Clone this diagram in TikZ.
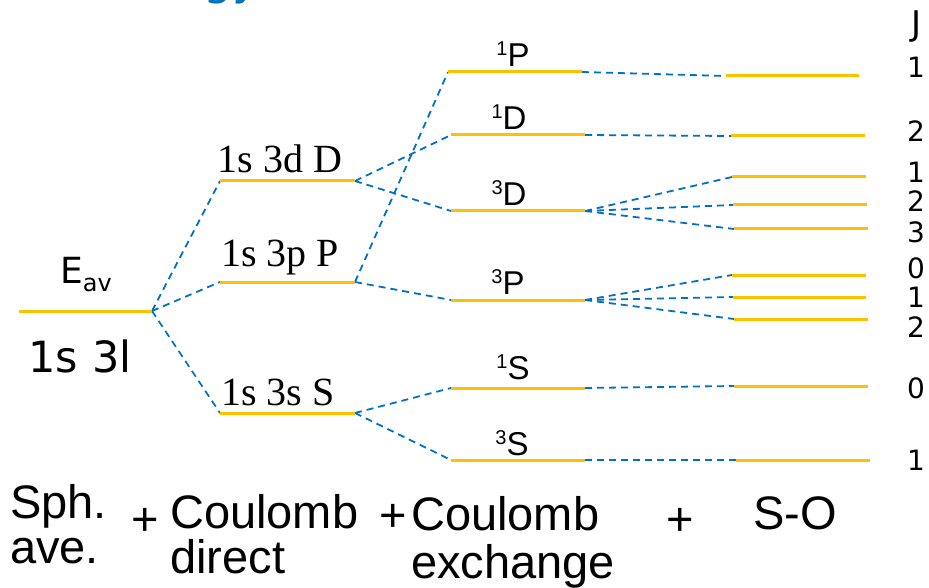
\documentclass[tikz,border=0pt]{standalone}
\usepackage{fontspec}
\setmainfont{Liberation Sans}
\newfontfamily\vfont{DejaVu Sans}
\newfontfamily\serfont{Liberation Serif}

\definecolor{levelgold}{HTML}{FFC000}
\definecolor{linkblue}{HTML}{0070C0}

\tikzset{
  lvl/.style={levelgold, line width=3pt},
  link/.style={linkblue, line width=1.8pt, dash pattern=on 7pt off 5pt},
  cfg/.style={font=\serfont\fontsize{40}{40}\selectfont, anchor=base},
  trm/.style={font=\fontsize{33}{33}\selectfont, anchor=base},
  jval/.style={font=\vfont\fontsize{28}{28}\selectfont},
  stage/.style={font=\fontsize{47}{50}\selectfont, align=left, anchor=north west, inner sep=0pt},
}
\newcommand{\term}[2]{\raisebox{11pt}{\fontsize{20}{20}\selectfont #1}#2}

\begin{document}
\begin{tikzpicture}[x=1pt, y=-1pt]
    \useasboundingbox (0,0) rectangle (929,588);

    % ==========================================
    % TITLE (cut off at the top edge)
    % ==========================================
    \node[linkblue, font=\vfont\fontsize{46}{46}\selectfont, anchor=base east, inner sep=0pt] (title) at (260,-5) {Energy};

    % ==========================================
    % LEVEL END POINTS
    % ==========================================

    % Spherical average
    \coordinate (av-l) at (19,311);   \coordinate (av-r) at (152,311);

    % Coulomb direct
    \coordinate (dirD-l) at (220,181); \coordinate (dirD-r) at (355,181);
    \coordinate (dirP-l) at (220,282); \coordinate (dirP-r) at (355,282);
    \coordinate (dirS-l) at (220,413); \coordinate (dirS-r) at (355,413);

    % Coulomb exchange
    \coordinate (x1P-l) at (448,72);  \coordinate (x1P-r) at (582,72);
    \coordinate (x1D-l) at (451,135); \coordinate (x1D-r) at (585,135);
    \coordinate (x3D-l) at (451,211); \coordinate (x3D-r) at (585,211);
    \coordinate (x3P-l) at (451,300); \coordinate (x3P-r) at (585,300);
    \coordinate (x1S-l) at (451,388); \coordinate (x1S-r) at (585,388);
    \coordinate (x3S-l) at (451,460); \coordinate (x3S-r) at (585,460);

    % Spin-orbit
    \coordinate (j1P-l) at (726,76);   \coordinate (j1P-r) at (859,76);
    \coordinate (j1D-l) at (731,136);  \coordinate (j1D-r) at (865,136);
    \coordinate (j3D1-l) at (732,177); \coordinate (j3D1-r) at (866,177);
    \coordinate (j3D2-l) at (733,205); \coordinate (j3D2-r) at (867,205);
    \coordinate (j3D3-l) at (734,229); \coordinate (j3D3-r) at (868,229);
    \coordinate (j3P0-l) at (732,275); \coordinate (j3P0-r) at (866,275);
    \coordinate (j3P1-l) at (733,297); \coordinate (j3P1-r) at (866,297);
    \coordinate (j3P2-l) at (734,319); \coordinate (j3P2-r) at (868,319);
    \coordinate (j1S-l) at (734,386);  \coordinate (j1S-r) at (868,386);
    \coordinate (j3S-l) at (736,460);  \coordinate (j3S-r) at (870,460);

    % ==========================================
    % DASHED LINKS
    % Drawn first so the levels sit on top
    % ==========================================

    % Average -> direct
    \draw[link] (av-r) -- (dirD-l);
    \draw[link] (av-r) -- (dirP-l);
    \draw[link] (av-r) -- (dirS-l);

    % Direct -> exchange
    \draw[link] (dirD-r) -- (x1D-l);
    \draw[link] (dirD-r) -- (x3D-l);
    \draw[link] (dirP-r) -- (x1P-l);
    \draw[link] (dirP-r) -- (x3P-l);
    \draw[link] (dirS-r) -- (x1S-l);
    \draw[link] (dirS-r) -- (x3S-l);

    % Exchange -> spin-orbit
    \draw[link] (x1P-r) -- (j1P-l);
    \draw[link] (x1D-r) -- (j1D-l);
    \draw[link] (x3D-r) -- (j3D1-l);
    \draw[link] (x3D-r) -- (j3D2-l);
    \draw[link] (x3D-r) -- (j3D3-l);
    \draw[link] (x3P-r) -- (j3P0-l);
    \draw[link] (x3P-r) -- (j3P1-l);
    \draw[link] (x3P-r) -- (j3P2-l);
    \draw[link] (x1S-r) -- (j1S-l);
    \draw[link] (x3S-r) -- (j3S-l);

    % ==========================================
    % LEVELS
    % ==========================================
    \draw[lvl] (av-l) -- (av-r);

    \draw[lvl] (dirD-l) -- (dirD-r);
    \draw[lvl] (dirP-l) -- (dirP-r);
    \draw[lvl] (dirS-l) -- (dirS-r);

    \draw[lvl] (x1P-l) -- (x1P-r);
    \draw[lvl] (x1D-l) -- (x1D-r);
    \draw[lvl] (x3D-l) -- (x3D-r);
    \draw[lvl] (x3P-l) -- (x3P-r);
    \draw[lvl] (x1S-l) -- (x1S-r);
    \draw[lvl] (x3S-l) -- (x3S-r);

    \draw[lvl] (j1P-l) -- (j1P-r);
    \draw[lvl] (j1D-l) -- (j1D-r);
    \draw[lvl] (j3D1-l) -- (j3D1-r);
    \draw[lvl] (j3D2-l) -- (j3D2-r);
    \draw[lvl] (j3D3-l) -- (j3D3-r);
    \draw[lvl] (j3P0-l) -- (j3P0-r);
    \draw[lvl] (j3P1-l) -- (j3P1-r);
    \draw[lvl] (j3P2-l) -- (j3P2-r);
    \draw[lvl] (j1S-l) -- (j1S-r);
    \draw[lvl] (j3S-l) -- (j3S-r);

    % ==========================================
    % LEVEL LABELS
    % ==========================================
    \node[font=\vfont\fontsize{36}{36}\selectfont, anchor=base] (eav) at (86,283)
        {E\raisebox{-9pt}{\fontsize{24}{24}\selectfont av}};
    \node[font=\vfont\fontsize{43}{43}\selectfont, anchor=base] (conf) at (80,372) {1s 3l};

    \node[cfg] (lab-dirD) at (280,173) {1s 3d D};
    \node[cfg] (lab-dirP) at (280,266) {1s 3p P};
    \node[cfg] (lab-dirS) at (278,405) {1s 3s S};

    \node[trm] (lab-x1P) at (513,67)  {\term{1}{P}};
    \node[trm] (lab-x1D) at (509,130) {\term{1}{D}};
    \node[trm] (lab-x3D) at (509,206) {\term{3}{D}};
    \node[trm] (lab-x3P) at (508,294) {\term{3}{P}};
    \node[trm] (lab-x1S) at (513,379) {\term{1}{S}};
    \node[trm] (lab-x3S) at (512,455) {\term{3}{S}};

    % J values
    \node[jval, font=\vfont\fontsize{34}{34}\selectfont] (jhead) at (917,27) {J};
    \node[jval] (jv1P)  at (916,67)  {1};
    \node[jval] (jv1D)  at (916,131) {2};
    \node[jval] (jv3D1) at (916,172) {1};
    \node[jval] (jv3D2) at (916,201) {2};
    \node[jval] (jv3D3) at (916,232) {3};
    \node[jval] (jv3P0) at (916,268) {0};
    \node[jval] (jv3P1) at (916,297) {1};
    \node[jval] (jv3P2) at (916,327) {2};
    \node[jval] (jv1S)  at (916,388) {0};
    \node[jval] (jv3S)  at (916,460) {1};

    % ==========================================
    % STAGE NAMES
    % ==========================================
    \node[stage] (st-sph) at (10,484) {Sph.\\[-5pt]ave.};
    \node[stage, anchor=center] (plus1) at (145,522) {+};
    \node[stage] (st-dir) at (170,494) {Coulomb\\[-5pt]direct};
    \node[stage, anchor=center] (plus2) at (393,518) {+};
    \node[stage] (st-exc) at (411,496) {Coulomb\\[-2pt]exchange};
    \node[stage, anchor=center] (plus3) at (680,522) {+};
    \node[stage] (st-so) at (753,496) {S-O};

\end{tikzpicture}
\end{document}
